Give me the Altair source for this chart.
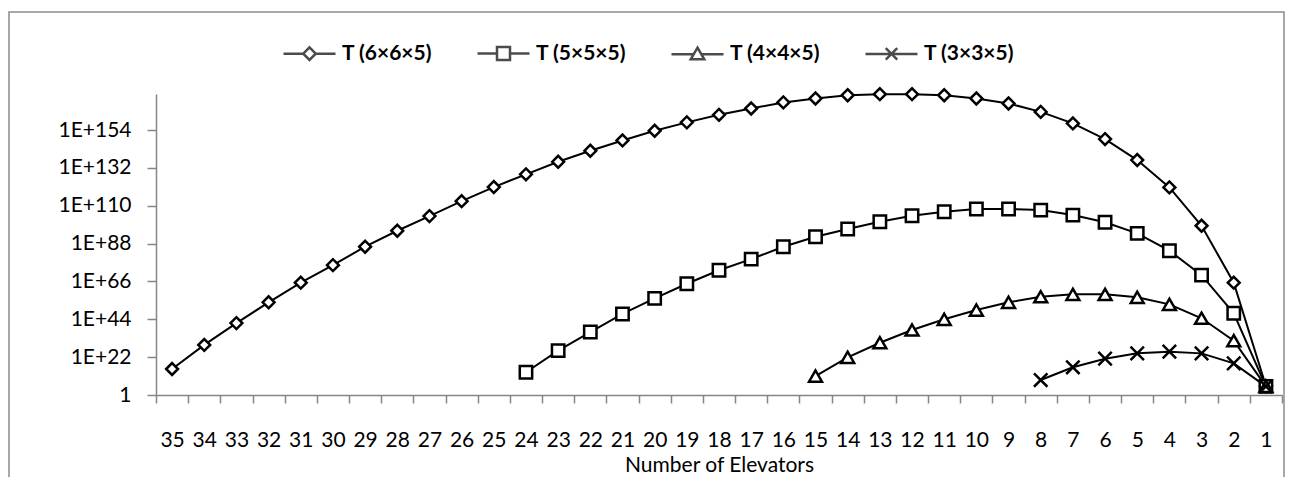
import altair as alt
import pandas as pd

# ---------------- data ----------------
series_names = ["T (6×6×5)", "T (5×5×5)", "T (4×4×5)", "T (3×3×5)"]
elevators = list(range(35, 0, -1))          # x categories, left to right

# T (6x6x5): elevators 35 .. 1
t_665 = [1.3e15, 1.3e29, 6.3e41, 7.9e53, 2e65, 3.2e75, 1.6e86, 3.2e95, 1e104,
         5e112, 7.9e120, 2e128, 4e135, 1e142, 1e148, 4e153, 3.2e158, 7.9e162,
         4e166, 1.3e170, 2.5e172, 2e174, 7.9e174, 7.9e174, 2e174, 2.5e172,
         3.2e169, 4e164, 7.9e157, 6.3e148, 4e136, 5e120, 2.5e98, 2e65, 1.6e5]
# T (5x5x5): elevators 24 .. 1
t_555 = [1.6e13, 6.3e25, 4e36, 1.3e47, 1.6e56, 5e64, 3.2e72, 1e79, 1.6e86,
         1e92, 3.2e96, 5e100, 1.6e104, 3.2e106, 1.3e108, 1.3e108, 3.2e107,
         4e104, 2.5e100, 1e94, 7.9e83, 5e69, 3.2e47, 1e5]
# T (4x4x5): elevators 15 .. 1
t_445 = [1e11, 7.9e21, 2.5e30, 6.3e37, 1e44, 2.5e49, 7.9e53, 1.3e57, 3.2e58,
         3.2e58, 6.3e56, 5e52, 4e44, 4e31, 1e5]
# T (3x3x5): elevators 8 .. 1
t_335 = [5e8, 1.3e16, 1.3e21, 1.6e24, 1.6e25, 1.6e24, 2.5e18, 1e5]

y_tick_values = [1, 1e22, 1e44, 1e66, 1e88, 1e110, 1e132, 1e154]
y_max = 1e175

# ---------------- table ----------------
rows = []
for name, vals in zip(series_names, [t_665, t_555, t_445, t_335]):
    n = len(vals)
    for i, v in enumerate(vals):
        rows.append({"series": name, "elev": n - i, "value": v})
df = pd.DataFrame(rows)

FONT = "Lato"
AXIS_GRAY = "#868686"

x_enc = alt.X(
    "elev:O",
    scale=alt.Scale(type="band", domain=elevators, paddingInner=0, paddingOuter=0),
    axis=alt.Axis(
        title="Number of Elevators", labelAngle=0, tickBand="extent",
        tickSize=8, tickColor=AXIS_GRAY, domainColor=AXIS_GRAY, tickWidth=1.5,
        domainWidth=1.5, labelPadding=26, labelFont=FONT, labelFontSize=21,
        labelColor="black", titleFont=FONT, titleFontSize=21,
        titleFontWeight="normal", titleColor="black", titlePadding=4,
    ),
)
y_enc = alt.Y(
    "value:Q",
    scale=alt.Scale(type="log", domain=[1, y_max], nice=False),
    axis=alt.Axis(
        title=None, values=y_tick_values, grid=False,
        labelExpr="datum.value <= 1 ? '1' : '1E+' + round(log(datum.value) / LN10)",
        tickSize=9, tickColor=AXIS_GRAY, domainColor=AXIS_GRAY, tickWidth=1.5,
        domainWidth=1.5, labelPadding=16, labelFont=FONT, labelFontSize=21,
        labelColor="black",
    ),
)

base = alt.Chart(df)

lines = base.mark_line(color="black", strokeWidth=2).encode(
    x=x_enc, y=y_enc, detail="series:N"
)

points = base.mark_point(
    fill="white", stroke="black", strokeWidth=2.5, opacity=1, filled=False
).encode(
    x=x_enc, y=y_enc,
    shape=alt.Shape(
        "series:N",
        scale=alt.Scale(domain=series_names,
                        range=["diamond", "square", "triangle-up",
                               "M-1,-1L1,1M-1,1L1,-1"]),
        legend=None,
    ),
    size=alt.Size(
        "series:N",
        scale=alt.Scale(domain=series_names, range=[140, 180, 190, 160]),
        legend=None,
    ),
)

# legend glyphs: a line with the series' marker in its middle
legend_shapes = [
    "M-1,0L-0.24,0M0.24,0L1,0M0,-0.24L0.24,0L0,0.24L-0.24,0Z",
    "M-1,0L-0.25,0M0.25,0L1,0M-0.25,-0.25L0.25,-0.25L0.25,0.25L-0.25,0.25Z",
    "M-1,0L-0.14,0M0.14,0L1,0M0,-0.25L0.26,0.2L-0.26,0.2Z",
    "M-1,0L1,0M-0.22,-0.22L0.22,0.22M-0.22,0.22L0.22,-0.22",
]

# legend-only layer: its rows are filtered out, the legend comes from the
# explicit scale domain
legend_layer = base.transform_filter("datum.value < 0").mark_point(
    fill="white", stroke="black", strokeWidth=2.5, filled=False
).encode(
    x=x_enc, y=y_enc,
    shape=alt.Shape(
        "series:N",
        scale=alt.Scale(domain=series_names, range=legend_shapes),
        legend=alt.Legend(
            title=None, orient="none", legendX=126, legendY=-68,
            direction="horizontal", columns=4, symbolSize=2704,
            symbolStrokeWidth=2.5,
            labelFont=FONT, labelFontSize=21, labelFontWeight="bold",
            labelColor="black", labelOffset=5, columnPadding=39,
        ),
    ),
)

frame = alt.Chart(pd.DataFrame({"a": [0]})).mark_rect(
    fillOpacity=0, stroke="#8c8c8c", strokeWidth=1.5
).encode(
    x=alt.value(-147), x2=alt.value(1128), y=alt.value(-82), y2=alt.value(420)
)

chart = (
    alt.layer(frame, lines, points, legend_layer)
    .resolve_scale(shape="independent")
    .properties(
        width=1126, height=301,
        autosize=alt.AutoSizeParams(type="none"),
        padding={"left": 148, "top": 86, "right": 3, "bottom": 82},
        background="white",
    )
    .configure_view(stroke=None)
)

chart.save("out.html", embed_options={"renderer": "svg", "actions": False})
